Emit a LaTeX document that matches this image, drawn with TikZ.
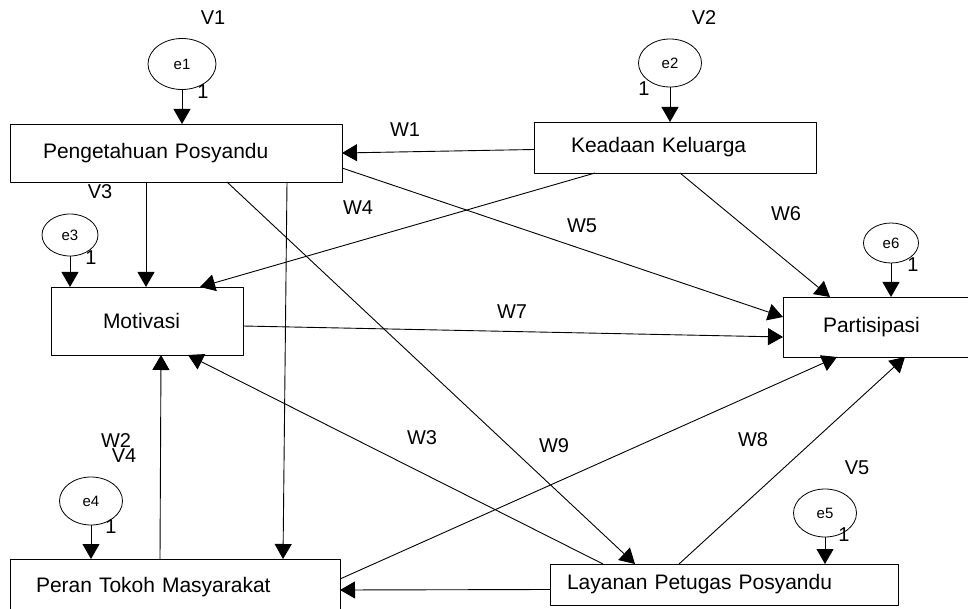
\documentclass[tikz,border=0pt]{standalone}
\usepackage{fontspec}
\setmainfont{Liberation Sans}
\usetikzlibrary{arrows.meta,shapes.geometric}

\begin{document}
\begin{tikzpicture}[x=1pt, y=-1pt, line join=round, >={Triangle[length=15pt,width=17pt]},
  var/.style={draw, line width=0.9pt, rectangle, align=left, inner ysep=0pt, outer sep=0pt, font=\fontsize{21}{25}\selectfont},
  err/.style={draw, ellipse, line width=0.8pt, inner sep=0pt, outer sep=0pt, font=\fontsize{15}{18}\selectfont},
  lbl/.style={inner sep=0pt, font=\fontsize{20}{24}\selectfont},
  conn/.style={->, line width=0.9pt}]
\useasboundingbox (0,0) rectangle (968,609);
% observed variables
\node[var, minimum height=58pt, inner xsep=33pt, text width=266pt] (PP) at (176,153) {Pengetahuan Posyandu};
\node[var, minimum height=51pt, inner xsep=37pt, text width=208pt] (KK) at (675,147.5) {Keadaan Keluarga};
\node[var, minimum height=68pt, inner xsep=52pt, text width=88pt] (M) at (147,321) {Motivasi};
\node[var, minimum height=60pt, inner xsep=40pt, text width=105pt] (Pa) at (875.5,327) {Partisipasi};
\node[var, minimum height=56pt, inner xsep=26pt, text width=278pt] (PT) at (175,587) {Peran Tokoh Masyarakat};
\node[var, minimum height=41pt, inner xsep=17pt, text width=314pt] (LP) at (724,584.5) {Layanan Petugas Posyandu};
% error terms
\node[err, minimum width=68pt, minimum height=51pt] (e1) at (182,64) {e1};
\node[err, minimum width=63pt, minimum height=48pt] (e2) at (670,63) {e2};
\node[err, minimum width=56pt, minimum height=42pt] (e3) at (70,235) {e3};
\node[err, minimum width=55pt, minimum height=40pt] (e6) at (891,243) {e6};
\node[err, minimum width=63pt, minimum height=48pt] (e4) at (91,501) {e4};
\node[err, minimum width=63pt, minimum height=48pt] (e5) at (825,513) {e5};
\draw[conn] (e1.south) -- (e1.south |- PP.north);
\draw[conn] (e2.south) -- (e2.south |- KK.north);
\draw[conn] (e3.south) -- (e3.south |- M.north);
\draw[conn] (e6.south) -- (e6.south |- Pa.north);
\draw[conn] (e4.south) -- (e4.south |- PT.north);
\draw[conn] (e5.south) -- (e5.south |- LP.north);
\node[lbl] (one1) at (203,92) {1};
\node[lbl] (one2) at (644,89) {1};
\node[lbl] (one3) at (91,258) {1};
\node[lbl] (one6) at (913,265) {1};
\node[lbl] (one4) at (111,527) {1};
\node[lbl] (one5) at (844,535) {1};
% paths
\draw[conn] ([yshift=-2pt]KK.west) -- (PP.east);
\draw[conn] ([xshift=136pt]PP.south west) -- ([xshift=95pt]M.north west);
\draw[conn] ([xshift=277pt]PP.south west) -- ([xshift=273pt]PT.north west);
\draw[conn] ([xshift=217pt]PP.south west) -- ([xshift=85pt]LP.north west);
\draw[conn] ([yshift=-15pt]PP.east) -- ([yshift=10pt]Pa.west);
\draw[conn] ([xshift=61pt]KK.south west) -- ([xshift=149pt]M.north west);
\draw[conn] ([xshift=146pt]KK.south west) -- ([xshift=47pt]Pa.north west);
\draw[conn] ([yshift=-5pt]M.east) -- ([yshift=-10pt]Pa.west);
\draw[conn] ([xshift=53pt]LP.north west) -- ([xshift=137pt]M.south west);
\draw[conn] ([xshift=150pt]PT.north west) -- ([xshift=110pt]M.south west);
\draw[conn] ([yshift=8pt]PT.east) -- ([xshift=54pt]Pa.south west);
\draw[conn] ([xshift=129pt]LP.north west) -- ([xshift=122pt]Pa.south west);
\draw[conn] ([yshift=-5pt]LP.west) -- ([yshift=-3pt]PT.east);
% labels
\node[lbl] (V1) at (213,18) {V1};
\node[lbl] (V2) at (704,18) {V2};
\node[lbl] (V3) at (100,192) {V3};
\node[lbl] (V4) at (124,456) {V4};
\node[lbl] (V5) at (857,468) {V5};
\node[lbl] (W1) at (405,130) {W1};
\node[lbl] (W2) at (116,441) {W2};
\node[lbl] (W3) at (422,438) {W3};
\node[lbl] (W4) at (358,208) {W4};
\node[lbl] (W5) at (582,226) {W5};
\node[lbl] (W6) at (786,214) {W6};
\node[lbl] (W7) at (512,312) {W7};
\node[lbl] (W8) at (753,440) {W8};
\node[lbl] (W9) at (554,446) {W9};
\end{tikzpicture}
\end{document}
